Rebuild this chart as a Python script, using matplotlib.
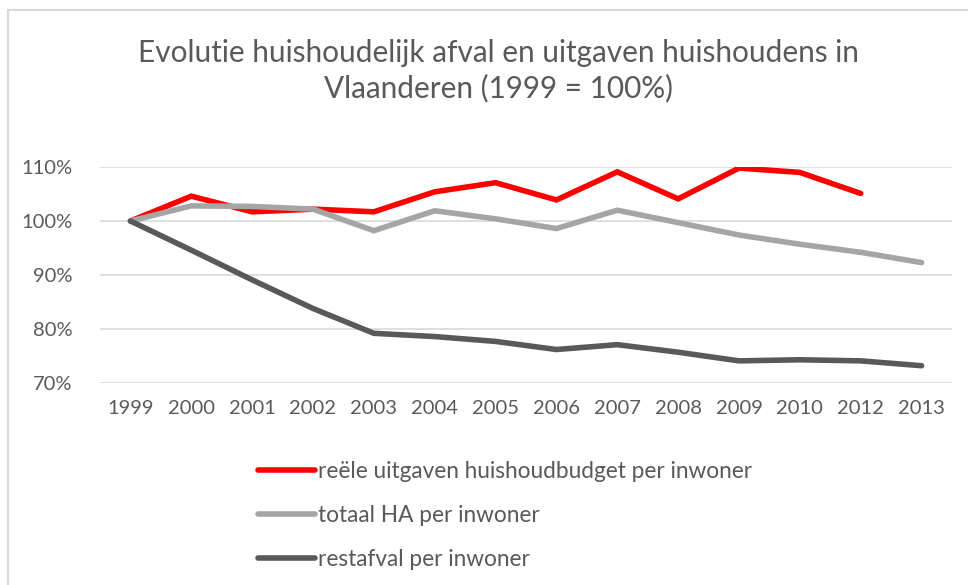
import numpy as np
import matplotlib
matplotlib.use("Agg")
import matplotlib.pyplot as plt
from matplotlib.lines import Line2D

plt.rcParams['font.family'] = ['Lato', 'DejaVu Sans']

years = ['1999', '2000', '2001', '2002', '2003', '2004', '2005', '2006',
         '2007', '2008', '2009', '2010', '2012', '2013']
# index values in % (1999 = 100)
uitgaven = [100, 104.6, 101.7, 102.2, 101.7, 105.4, 107.1, 103.9,
            109.1, 104.1, 109.8, 109.0, 105.1, np.nan]
totaal_ha = [100, 102.8, 102.7, 102.2, 98.2, 101.9, 100.4, 98.6,
             102.0, 99.7, 97.4, 95.7, 94.2, 92.3]
restafval = [100, 94.6, 89.1, 83.8, 79.2, 78.6, 77.7, 76.2,
             77.1, 75.7, 74.1, 74.3, 74.1, 73.2]
labels = ['reële uitgaven huishoudbudget per inwoner',
          'totaal HA per inwoner',
          'restafval per inwoner']
colors = ['#FF0000', '#A5A5A5', '#595959']
title = 'Evolutie huishoudelijk afval en uitgaven huishoudens in\nVlaanderen (1999 = 100%)'

txt = '#595959'
W, H = 968, 585
fig = plt.figure(figsize=(W / 100, H / 100), dpi=100)
ax = fig.add_axes([100 / W, 1 - 383 / H, 852 / W, (383 - 167) / H])

x = np.arange(len(years))
for vals, c in zip([uitgaven, totaal_ha, restafval], colors):
    ax.plot(x, vals, color=c, lw=4, solid_capstyle='round', solid_joinstyle='miter')

ax.set_xlim(-0.5, len(years) - 0.5)
ax.set_ylim(70, 110)
ax.set_yticks([70, 80, 90, 100, 110])
ax.set_yticklabels(['70%', '80%', '90%', '100%', '110%'])
ax.set_xticks(x)
ax.set_xticklabels(years)
ax.grid(axis='y', color='#D9D9D9', lw=1.2)
ax.set_axisbelow(True)
for s in ax.spines.values():
    s.set_visible(False)
ax.tick_params(length=0, labelsize=14.5, colors=txt)
ax.tick_params(axis='x', pad=12)
ax.tick_params(axis='y', pad=20)

fig.text(498 / W, 1 - 71 / H, title, ha='center', va='center', fontsize=21.4,
         color=txt, linespacing=1.3)

handles = [Line2D([], [], color=c, lw=4, solid_capstyle='round') for c in colors]
fig.legend(handles, labels, loc='upper left', bbox_to_anchor=(238 / W, 1 - 441 / H),
           frameon=False, fontsize=16.3, labelcolor=txt, handlelength=2.5,
           handletextpad=0.13, labelspacing=1.0)

# chart frame (top and left edges visible)
fig.add_artist(Line2D([8 / W, 1], [1 - 9.5 / H, 1 - 9.5 / H], color='#D9D9D9', lw=1.5))
fig.add_artist(Line2D([8 / W, 8 / W], [0, 1 - 9.5 / H], color='#D9D9D9', lw=1.5))

fig.savefig('out.png', dpi=100)
